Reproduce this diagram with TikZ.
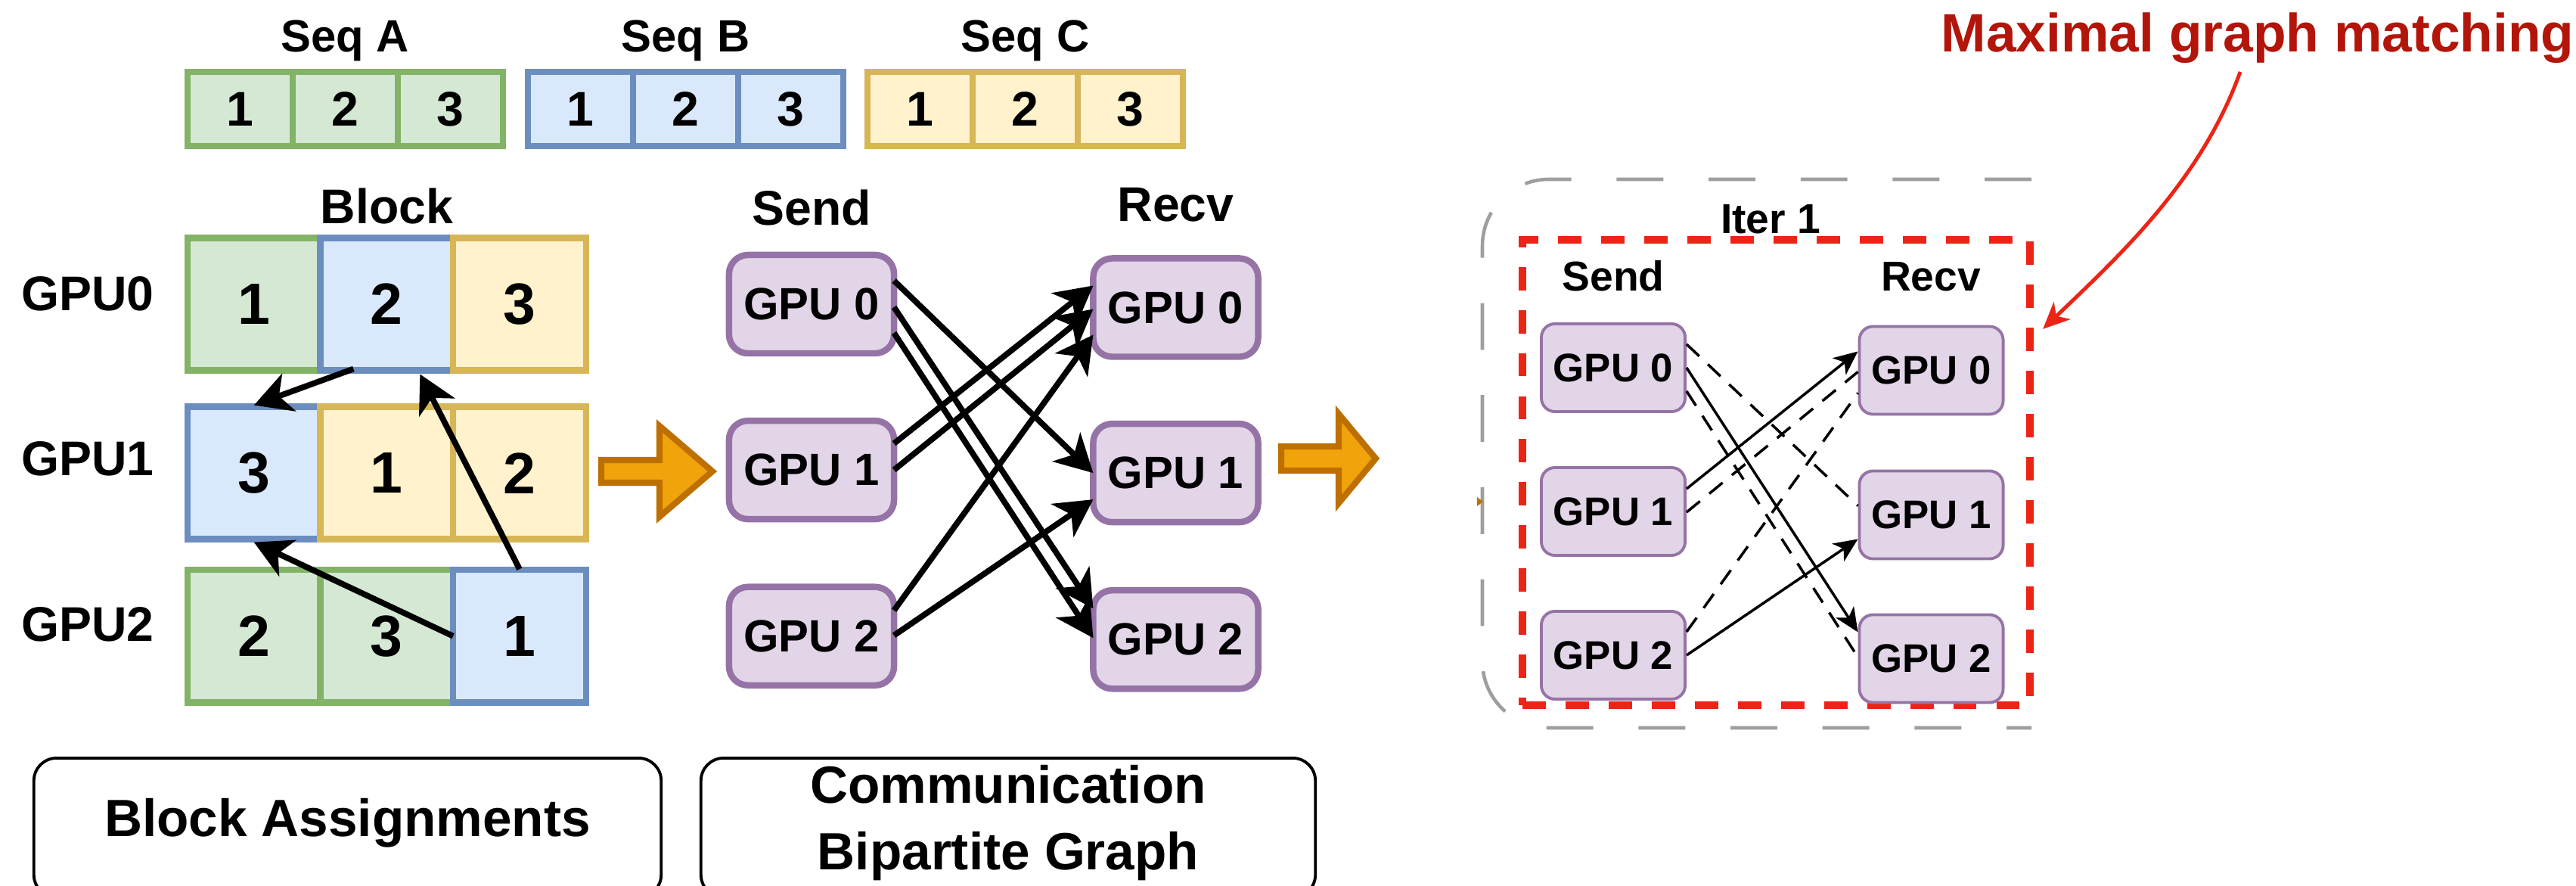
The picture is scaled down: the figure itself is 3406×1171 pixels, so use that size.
\documentclass[tikz,border=0pt]{standalone}
\usepackage{fontspec}
\setmainfont{Liberation Sans}
\usepackage{tikz}
\usetikzlibrary{arrows.meta,positioning,calc}
\definecolor{greenfill}{HTML}{D5E8D4}
\definecolor{greenline}{HTML}{82B366}
\definecolor{bluefill}{HTML}{DAE8FC}
\definecolor{blueline}{HTML}{6C8EBF}
\definecolor{yellowfill}{HTML}{FFF2CC}
\definecolor{yellowline}{HTML}{D6B656}
\definecolor{gpufill}{HTML}{E1D5E7}
\definecolor{gpuline}{HTML}{9673A6}
\definecolor{orangefill}{HTML}{F0A30A}
\definecolor{orangeline}{HTML}{BD7000}
\definecolor{matchred}{HTML}{EC2416}
\definecolor{matchtext}{HTML}{B3150A}
\definecolor{framegray}{HTML}{9E9E9E}

\begin{document}
\begin{tikzpicture}[x=0.01cm, y=-0.01cm, every node/.style={font=\bfseries},
  seqcell/.style={draw, line width=2.4pt, minimum width=1.39cm, minimum height=0.98cm, inner sep=0pt, outer sep=0pt, font=\fontsize{18.3}{20}\selectfont\bfseries},
  blkcell/.style={draw, line width=2.4pt, minimum width=1.755cm, minimum height=1.75cm, inner sep=0pt, outer sep=0pt, font=\fontsize{21.9}{24}\selectfont\bfseries},
  seqa/.style={fill=greenfill, draw=greenline},
  seqb/.style={fill=bluefill, draw=blueline},
  seqc/.style={fill=yellowfill, draw=yellowline},
  seqlabel/.style={anchor=base, inner sep=0pt, font=\fontsize{17}{17}\selectfont\bfseries},
  heading/.style={anchor=base, inner sep=0pt, font=\fontsize{18.3}{18.3}\selectfont\bfseries},
  gpubox/.style={draw=gpuline, fill=gpufill, line width=2.4pt, rounded corners=0.25cm, minimum width=2.18cm, minimum height=1.30cm, inner sep=0pt, outer sep=0pt, font=\fontsize{17}{17}\selectfont\bfseries},
  gpusmall/.style={draw=gpuline, fill=gpufill, line width=1.1pt, rounded corners=0.18cm, minimum width=1.90cm, minimum height=1.16cm, inner sep=0pt, font=\fontsize{15}{15}\selectfont\bfseries},
  minihead/.style={anchor=base, inner sep=0pt, font=\fontsize{15.7}{15.7}\selectfont\bfseries},
  capbox/.style={draw, line width=1.1pt, rounded corners=0.3cm, minimum height=1.84cm, inner sep=0pt},
  captext/.style={inner sep=0pt, font=\fontsize{19.7}{25}\selectfont\bfseries},
  blkmove/.style={-{Stealth[length=14pt, width=15pt, inset=4pt]}, line width=2.2pt},
  sendedge/.style={-{Stealth[length=14pt, width=15pt, inset=4pt]}, line width=2.2pt},
  bigarrow/.style={fill=orangefill, draw=orangeline, line width=2.3pt},
  matcharrow/.style={-{Stealth[length=9pt, width=8pt, inset=2.5pt]}, line width=1pt},
  unmatched/.style={dash pattern=on 6.5pt off 4.5pt, line width=1pt},
  iterframe/.style={draw=matchred, line width=2.8pt, dash pattern=on 8.8pt off 7.4pt, minimum width=6.71cm, minimum height=6.15cm, inner sep=0pt},
  outerframe/.style={draw=framegray, line width=1.3pt, dash pattern=on 17.6pt off 17pt, rounded corners=0.88cm}]
\useasboundingbox (0,0) rectangle (3406,1171);

\foreach \s/\x/\c in {a/248/seqa, b/698/seqb, c/1147/seqc}
  \foreach \i in {1,2,3}
    \node[seqcell, \c] (s\s\i) at (\x+139*\i-69.5,144) {\i};
\node[seqlabel] at ($(sa2.north)+(0,-26)$) {Seq A};
\node[seqlabel] at ($(sb2.north)+(0,-26)$) {Seq B};
\node[seqlabel] at ($(sc2.north)+(0,-26)$) {Seq C};

\node[blkcell, seqa] (g0c1) at (335.75,402) {1};
\node[blkcell, seqb, right=0pt of g0c1] (g0c2) {2};
\node[blkcell, seqc, right=0pt of g0c2] (g0c3) {3};
\node[blkcell, seqb, below=0.48cm of g0c1] (g1c1) {3};
\node[blkcell, seqc, right=0pt of g1c1] (g1c2) {1};
\node[blkcell, seqc, right=0pt of g1c2] (g1c3) {2};
\node[blkcell, seqa, below=0.405cm of g1c1] (g2c1) {2};
\node[blkcell, seqa, right=0pt of g2c1] (g2c2) {3};
\node[blkcell, seqb, right=0pt of g2c2] (g2c3) {1};
\node[heading] at ($(g0c2.north)+(0,-19)$) {Block};
\node[heading] (l0) at (116,411) {GPU0};
\node[heading] (l1) at (116,629) {GPU1};
\node[heading] (l2) at (116,848) {GPU2};
\draw[blkmove] ($(g0c2.south)+(-44,-2)$) -- ($(g1c1.north)+(0,-2)$);
\draw[blkmove] ($(g2c3.north)+(0,-1)$) -- ($(g0c2.south)+(44,5)$);
\draw[blkmove] (g2c3.west) -- ($(g1c1.south)+(0,4)$);

\draw[bigarrow, shift={(795,623)}] (0,-15) -- (77,-15) -- (77,-60) -- (147,0) -- (77,60) -- (77,15) -- (0,15) -- cycle;

\node[gpubox] (s0) at (1073,402) {GPU 0};
\node[gpubox, below=0.89cm of s0] (s1) {GPU 1};
\node[gpubox, below=0.895cm of s1] (s2) {GPU 2};
\node[gpubox] (r0) at (1554.5,406.5) {GPU 0};
\node[gpubox, below=0.885cm of r0] (r1) {GPU 1};
\node[gpubox, below=0.9cm of r1] (r2) {GPU 2};
\node[heading] at ($(s0.north)+(0,-39)$) {Send};
\node[heading] at ($(r0.north)+(0,-48.5)$) {Recv};
\draw[sendedge] ($(s0.east)+(0,-31)$) -- (r1.west);
\draw[sendedge] ($(s0.east)+(0,4)$) -- ($(r2.west)+(0,-41)$);
\draw[sendedge] ($(s0.east)+(0,38)$) -- ($(r2.west)+(0,-2)$);
\draw[sendedge] ($(s1.east)+(0,-35)$) -- ($(r0.west)+(0,-29)$);
\draw[sendedge] (s1.east) -- ($(r0.west)+(0,2)$);
\draw[sendedge] ($(s2.east)+(0,-34)$) -- ($(r0.west)+(0,36)$);
\draw[sendedge] ($(s2.east)+(0,-1)$) -- ($(r1.west)+(0,35)$);

\draw[bigarrow, shift={(1694,606)}] (0,-16) -- (76,-16) -- (76,-59) -- (125,0) -- (76,59) -- (76,16) -- (0,16) -- cycle;

\node[capbox, minimum width=8.29cm] (capa) at (459.5,1094) {};
\node[captext] at ($(capa.center)+(0,-6)$) {Block Assignments};
\node[capbox, minimum width=8.12cm] (capb) at (1333,1094) {};
\node[captext, align=center] at ($(capb.center)+(0,-6)$) {Communication\\Bipartite Graph};

\draw[outerframe] (2686,237) -- (1960,237) -- (1960,962) -- (2686,962);
\fill[orangeline] (1953,657) -- (1961,663) -- (1953,669) -- cycle;
\node[iterframe] (iterbox) at (2348.5,624.5) {};
\node[minihead] at (2341,309) {Iter 1};
\node[minihead] at (2133,385) {Send};
\node[minihead] at (2553,385) {Recv};
\node[gpusmall] (ms0) at (2133,486) {GPU 0};
\node[gpusmall] (ms1) at (2133,676) {GPU 1};
\node[gpusmall] (ms2) at (2133,866) {GPU 2};
\node[gpusmall] (mr0) at (2553.5,489.5) {GPU 0};
\node[gpusmall] (mr1) at (2553.5,680.5) {GPU 1};
\node[gpusmall] (mr2) at (2553.5,870.5) {GPU 2};
\draw[unmatched] ($(ms0.east)+(0,-31)$) -- ($(mr1.west)+(0,-12)$);
\draw[unmatched] ($(ms0.east)+(0,31)$) -- ($(mr2.west)+(0,-2)$);
\draw[unmatched] ($(ms1.east)+(0,1)$) -- ($(mr0.west)+(0,2)$);
\draw[unmatched] ($(ms2.east)+(0,-31)$) -- ($(mr0.west)+(0,30)$);
\draw[matcharrow] ($(ms1.east)+(0,-30)$) -- ($(mr0.west)+(0,-25)$);
\draw[matcharrow] (ms2.east) -- ($(mr1.west)+(0,32)$);
\draw[matcharrow] (ms0.east) -- ($(mr2.west)+(0,-35)$);

\node[anchor=base, inner sep=0pt, text=matchtext, font=\fontsize{20.3}{20.3}\selectfont\bfseries] (match) at (2985,69) {Maximal graph matching};
\draw[-{Stealth[length=10pt, width=9pt, inset=3pt]}, matchred, line width=1.4pt] ($(match.base)+(-23,26)$) .. controls (2910,240) and (2800,340) .. ($(iterbox.north east)+(12,123)$);
\end{tikzpicture}
\end{document}
